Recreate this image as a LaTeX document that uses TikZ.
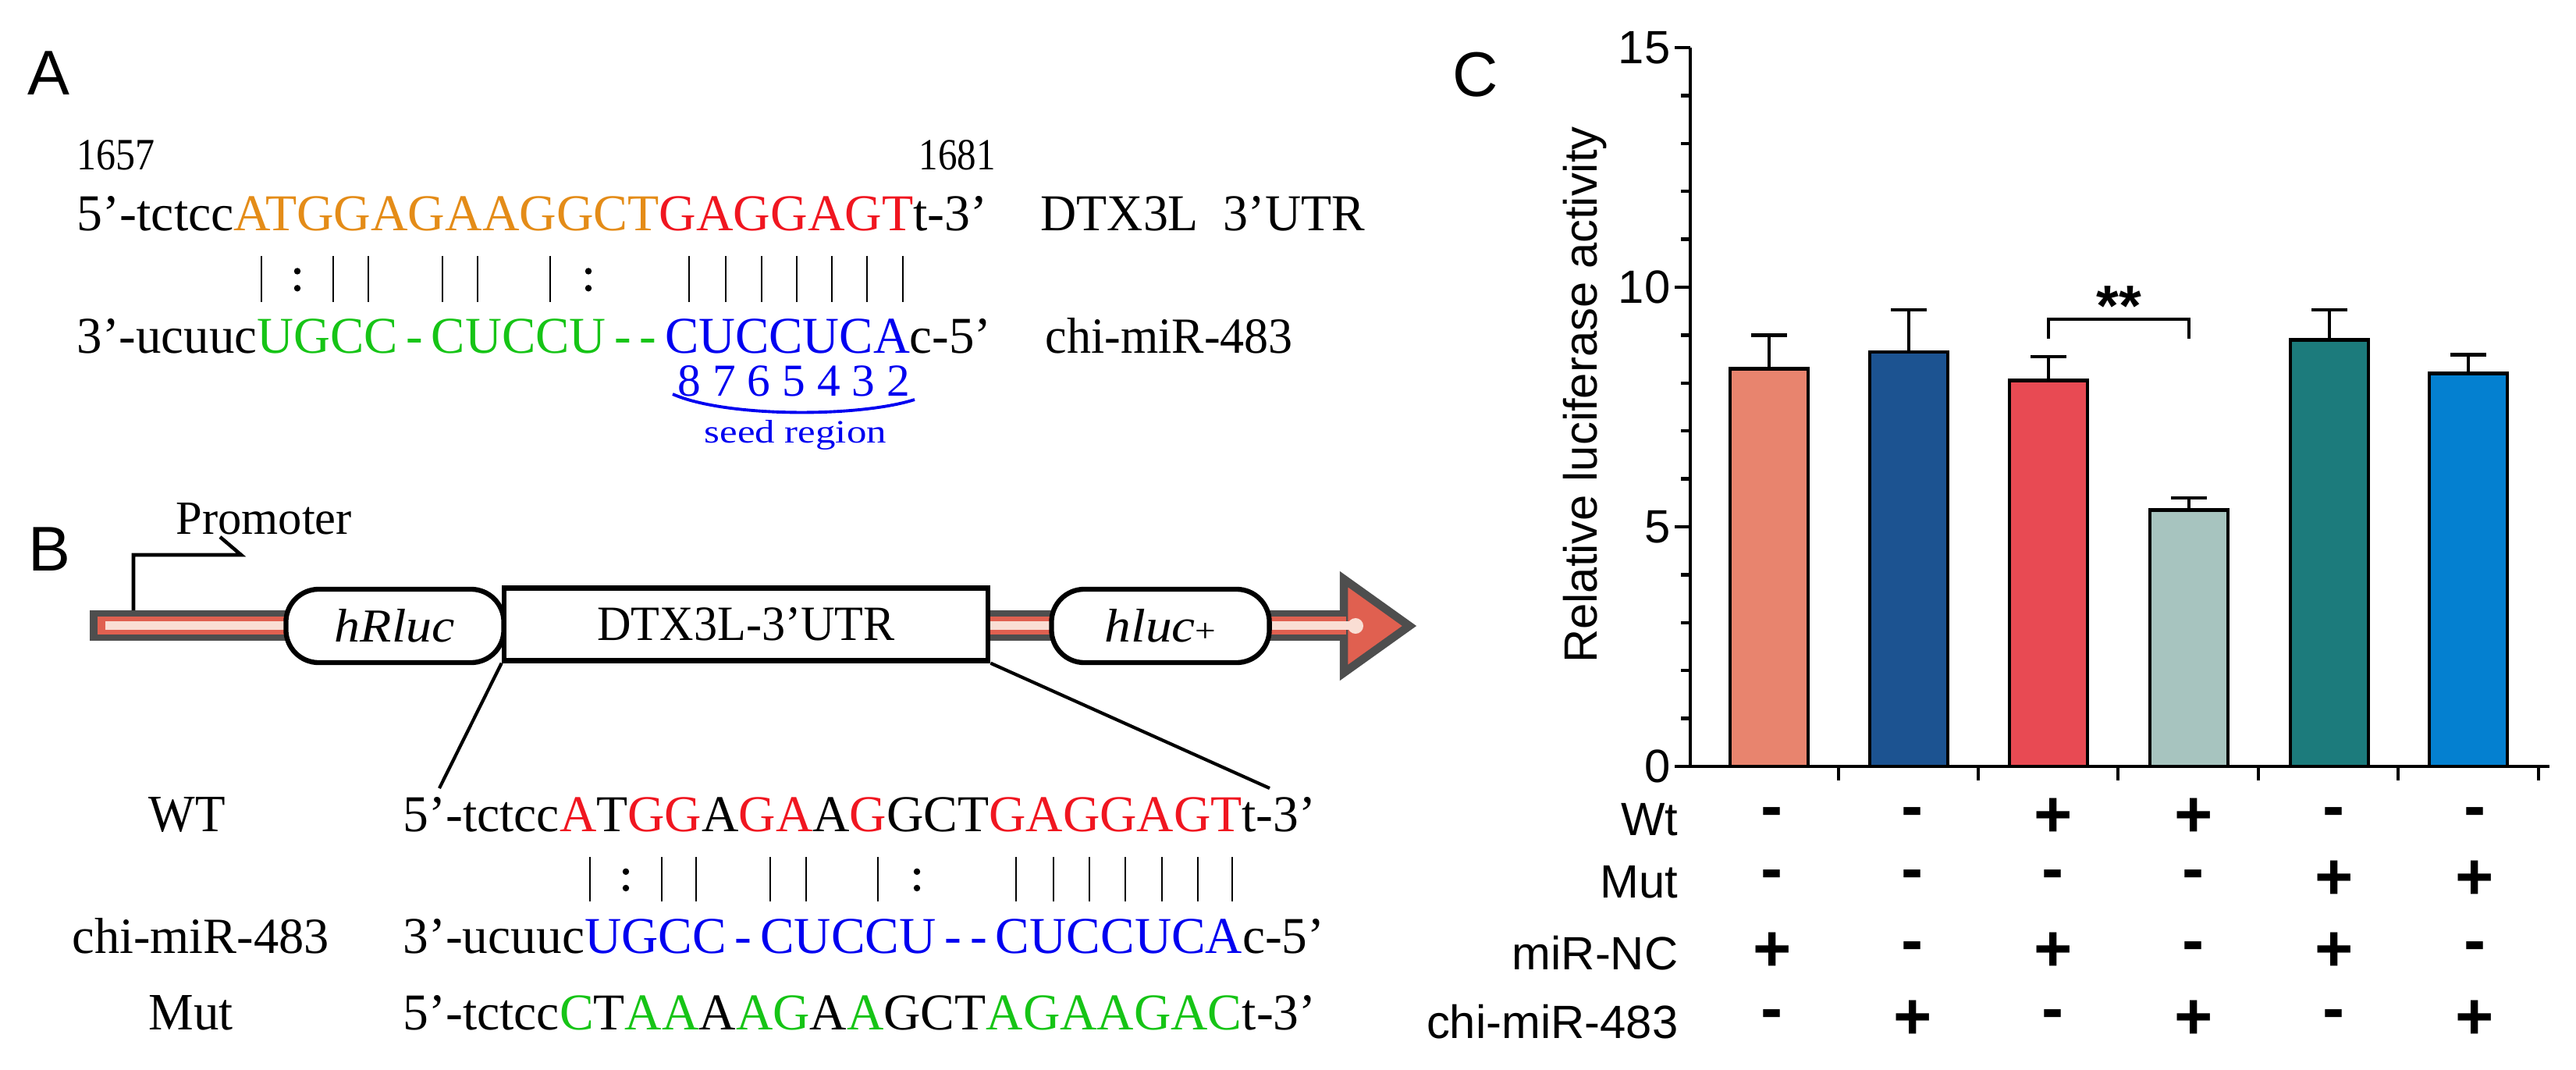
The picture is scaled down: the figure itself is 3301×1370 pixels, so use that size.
\documentclass[tikz,border=0pt]{standalone}
\usepackage{fontspec}
\usepackage{graphicx}
\setmainfont{Liberation Serif}
\newfontfamily\csans{Liberation Sans}
\definecolor{ora}{RGB}{228,140,24}
\definecolor{rd}{RGB}{240,22,32}
\definecolor{gr}{RGB}{22,196,22}
\definecolor{bl}{RGB}{0,0,240}
\definecolor{bgray}{RGB}{78,78,78}
\definecolor{bred}{RGB}{224,96,80}
\definecolor{bpale}{RGB}{250,222,212}
\definecolor{cA}{RGB}{232,132,110}
\definecolor{cB}{RGB}{28,83,145}
\definecolor{cC}{RGB}{232,74,83}
\definecolor{cD}{RGB}{167,196,191}
\definecolor{cE}{RGB}{28,123,124}
\definecolor{cF}{RGB}{4,128,208}
\newcommand\fit[3]{\resizebox{#1cm}{#2cm}{#3}}
\def\colonmark{c}
\tikzset{
  txt/.style={inner sep=0pt,anchor=base west},
  panel/.style={inner sep=0pt,font=\csans\fontsize{23}{26}\selectfont},
  pair/.style={line width=0.5pt},
  lbox/.style={draw,line width=1.8pt,fill=white,rounded corners=0.42cm,inner sep=0pt},
  rbox/.style={draw,line width=1.8pt,fill=white,inner sep=0pt},
  cax/.style={line width=1.3pt},
  cbar/.style={draw,line width=1.3pt},
  ctxt/.style={inner sep=0pt,font=\csans\fontsize{17}{20}\selectfont},
  sgn/.style={inner sep=0pt,font=\csans\bfseries\fontsize{24}{26}\selectfont},
}
\newcommand\pairs[3]{% y1,y2,list of x (c for colon)
  \foreach \px/\pk in {#3}{%
    \ifx\pk\colonmark
      \fill ({\px},{#1+(#2-#1)*0.33}) circle (1.2pt);
      \fill ({\px},{#1+(#2-#1)*0.7}) circle (1.2pt);
    \else
      \draw[pair] ({\px},#1) -- ({\px},#2);
    \fi}}
\begin{document}
\begin{tikzpicture}[x=0.01cm,y=-0.01cm]
\useasboundingbox (0,0) rectangle (3301,1370);
% ================= Panel A =================
\node[panel] (lA) at (62,94) {A};
\node[txt] (n1657) at (98,218) {\fit{1.00}{0.38}{1657}};
\node[txt] (n1681) at (1177,218) {\fit{0.98}{0.38}{1681}};
\node[txt] (seqA1) at (98,295) {\fit{11.66}{0.44}{5'-tctcc\textcolor{ora}{ATGGAGAAGGCT}\textcolor{rd}{GAGGAGT}t-3'}};
\node[txt] (labA1) at (1333,295) {\fit{4.15}{0.44}{DTX3L\ \ 3’UTR}};
\pairs{328}{387}{335/l,381/c,427/l,472/l,567/l,612/l,705/l,754/c,883/l,930/l,976/l,1021/l,1066/l,1111/l,1157/l}
\node[txt] (seqA2) at (98,452) {\fit{11.71}{0.44}{3'-ucuuc\textcolor{gr}{UGCC\,-\,CUCCU\,-\,-\,}\textcolor{bl}{CUCCUCA}c-5'}};
\node[txt] (labA2) at (1339,452) {\fit{3.17}{0.45}{chi-miR-483}};
\node[txt] (digits) at (868,507) {\fit{2.97}{0.39}{\textcolor{bl}{8 7 6 5 4 3 2}}};
\draw[bl,line width=1.1pt] (862,505) .. controls (930,535) and (1100,535) .. (1172,512);
\node[txt] (seed) at (902,567) {\fit{2.33}{0.29}{\textcolor{bl}{seed region}}};
% ================= Panel B =================
\node[panel] (lB) at (63,704) {B};
\node[txt] (prom) at (225,684) {\fit{2.25}{0.40}{Promoter}};
\fill[bgray] (115,782) rectangle (1740,821);
\fill[bred] (125,790) rectangle (1740,813);
\fill[bpale] (135,796) rectangle (1740,807);
\draw[bgray,line width=3pt,line join=miter,fill=bred] (1722,742) -- (1806,802) -- (1722,862) -- cycle;
\fill[bred] (1715,790) rectangle (1725,813);
\fill[bpale] (1715,796) rectangle (1737,807);
\fill[bpale] (1737,802) circle (0.1cm);
\draw[line width=1.3pt] (171,782) -- (171,711) -- (309,711) -- (282,688);
\node[lbox,minimum width=2.79cm,minimum height=0.94cm] (hr) at (506,802) {\fit{1.54}{0.42}{\textit{hRluc}}};
\node[rbox,minimum width=6.20cm,minimum height=0.93cm] (utr) at (956,800) {\fit{3.81}{0.42}{DTX3L-3'UTR}};
\node[lbox,minimum width=2.79cm,minimum height=0.94cm] (hl) at (1487,802) {\fit{1.43}{0.42}{\textit{hluc}{\scriptsize +}}};
\coordinate (zl) at (563,1010);
\coordinate (zr) at (1627,1010);
\draw[line width=1.2pt] (utr.south west) -- (zl);
\draw[line width=1.2pt] (utr.south east) -- (zr);
\node[txt] (wt) at (190,1065) {\fit{0.98}{0.44}{WT}};
\node[txt] (seqB1) at (516,1065) {\fit{11.69}{0.44}{5'-tctcc\textcolor{rd}{A}T\textcolor{rd}{GG}A\textcolor{rd}{GA}A\textcolor{rd}{G}GCT\textcolor{rd}{GAGGAGT}t-3'}};
\pairs{1098}{1155}{756/l,802/c,848/l,892/l,987/l,1033/l,1125/l,1175/c,1302/l,1350/l,1396/l,1442/l,1489/l,1535/l,1579/l}
\node[txt] (mirB) at (92,1221) {\fit{3.29}{0.45}{chi-miR-483}};
\node[txt] (seqB2) at (516,1221) {\fit{11.80}{0.44}{3'-ucuuc\textcolor{bl}{UGCC\,-\,CUCCU\,-\,-\,CUCCUCA}c-5'}};
\node[txt] (mut) at (190,1319) {\fit{1.08}{0.44}{Mut}};
\node[txt] (seqB3) at (516,1319) {\fit{11.69}{0.44}{5'-tctcc\textcolor{gr}{C}T\textcolor{gr}{AA}A\textcolor{gr}{AG}A\textcolor{gr}{A}GCT\textcolor{gr}{AGAAGAC}t-3'}};
% ================= Panel C =================
\node[panel] (lC) at (1891,96) {C};
% error bars
\foreach \cx/\yt/\ye in {2267/472.4/429.4, 2446/450.9/396.9, 2625/487.7/457, 2805/653.5/638.2, 2985/435.5/396.9, 3163/478.5/454.6}{
  \draw[cax] (\cx,\yt) -- (\cx,\ye);
  \draw[cax] (\cx-23,\ye) -- (\cx+23,\ye);
}
\foreach \cx/\yt/\cc in {2267/472.4/cA, 2446/450.9/cB, 2625/487.7/cC, 2805/653.5/cD, 2985/435.5/cE, 3163/478.5/cF}{
  \draw[cbar,fill=\cc] (\cx-50,982) rectangle (\cx+50,\yt);
}
% axes
\draw[cax] (2166,61) -- (2166,982) -- (3267,982);
\foreach \k in {1,...,14}{\draw[cax] (2166,{982-61.4*\k}) -- (2154,{982-61.4*\k});}
\foreach \v/\yy in {0/982,5/675,10/368,15/61}{
  \draw[cax] (2166,\yy) -- (2146,\yy);
  \node[ctxt,anchor=east] (t\v) at (2141,\yy) {\v};
}
\foreach \tx in {2356,2535,2714,2894,3073,3253}{\draw[cax] (\tx,982) -- (\tx,1000);}
\node[ctxt,rotate=90] (ylab) at (2031,506) {Relative luciferase activity};
% significance
\draw[cax] (2625,434) -- (2625,409) -- (2805,409) -- (2805,434);
\node[sgn,font=\csans\bfseries\fontsize{21}{24}\selectfont] (stars) at (2715,392) {**};
% table
\foreach \lab/\yy/\nm in {Wt/1050/rw, Mut/1130/rm, miR-NC/1221/rn, chi-miR-483/1309/rc}{
  \node[ctxt,anchor=east] (\nm) at (2151,\yy) {\lab};
}
\foreach \yy/\row in {1048/{-,-,+,+,-,-}, 1128/{-,-,-,-,+,+}, 1220/{+,-,+,-,+,-}, 1307/{-,+,-,+,-,+}}{
  \foreach \s [count=\i] in \row {
    \pgfmathsetmacro\sx{2271+(\i-1)*180}
    \node[sgn] at (\sx,\yy) {\s};
  }
}
\end{tikzpicture}
\end{document}
